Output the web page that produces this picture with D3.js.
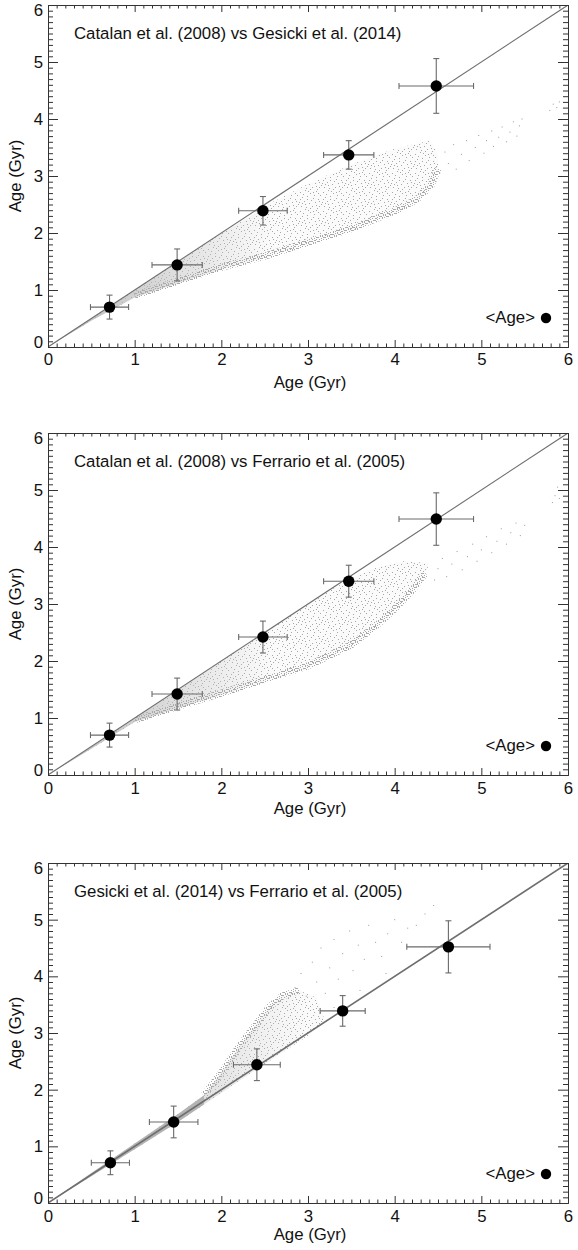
<!DOCTYPE html>
<html><head><meta charset="utf-8">
<script src="https://cdn.jsdelivr.net/npm/d3@7"></script>
<style>
body{margin:0;background:#fff}
svg{display:block}
text{font-family:"Liberation Sans",Arial,Helvetica,sans-serif;fill:#111}
</style>
</head><body>
<script>
// ---- data -------------------------------------------------------------
const tickValues = [0, 1, 2, 3, 4, 5, 6];
const titles = [
  "Catalan et al. (2008) vs Gesicki et al. (2014)",
  "Catalan et al. (2008) vs Ferrario et al. (2005)",
  "Gesicki et al. (2014) vs Ferrario et al. (2005)"
];
const axisTitle = "Age (Gyr)";
const legendLabel = "<Age>";

// mean ages with 1-sigma spreads
const ageX1 = [0.71, 1.49, 2.48, 3.47, 4.48];
const ageY1 = [0.70, 1.44, 2.39, 3.37, 4.58];
const errX1 = [0.22, 0.29, 0.28, 0.29, 0.43];
const errY1 = [0.21, 0.28, 0.25, 0.25, 0.48];

const ageX2 = [0.71, 1.49, 2.48, 3.47, 4.48];
const ageY2 = [0.70, 1.42, 2.42, 3.40, 4.49];
const errX2 = [0.22, 0.29, 0.28, 0.29, 0.43];
const errY2 = [0.21, 0.28, 0.28, 0.28, 0.46];

const ageX3 = [0.72, 1.45, 2.41, 3.40, 4.62];
const ageY3 = [0.71, 1.43, 2.44, 3.39, 4.52];
const errX3 = [0.22, 0.28, 0.27, 0.26, 0.48];
const errY3 = [0.21, 0.28, 0.28, 0.27, 0.46];

// outlines of the model clouds (x, y in Gyr)
const cloudUpper1 = [[0,0],[1.0,1.0],[2.0,1.99],[2.6,2.55],[3.0,2.86],[3.5,3.2],[4.0,3.48],[4.4,3.62]];
const cloudLower1 = [[0,0],[0.5,0.46],[1.0,0.87],[1.5,1.12],[2.0,1.36],[2.5,1.56],[3.0,1.8],[3.5,2.04],[4.0,2.35],[4.25,2.55],[4.42,2.8],[4.5,3.1],[4.5,3.4],[4.4,3.62]];
const cloudTail1 = [[4.52,3.05],[4.58,3.42],[4.62,3.22],[4.68,3.55],[4.71,3.12],[4.77,3.38],[4.83,3.62],[4.86,3.27],[4.93,3.5],[4.97,3.71],[5.03,3.4],[5.06,3.62],[5.12,3.79],[5.14,3.52],[5.2,3.68],[5.24,3.86],[5.29,3.6],[5.33,3.77],[5.37,3.95],[5.41,3.7],[5.44,3.88],[5.47,4.0],[5.79,4.15],[5.83,4.26],[5.87,4.2],[5.9,4.3]];

const cloudUpper2 = [[0,0],[1.0,1.0],[2.0,2.0],[3.3,3.28],[3.7,3.6],[4.1,3.75],[4.4,3.72]];
const cloudLower2 = [[0,0],[0.5,0.46],[1.0,0.93],[1.5,1.17],[2.0,1.4],[2.5,1.64],[3.0,1.88],[3.5,2.25],[3.8,2.6],[4.0,2.88],[4.2,3.2],[4.35,3.5],[4.4,3.72]];
const cloudTail2 = [[4.46,3.42],[4.5,3.62],[4.55,3.8],[4.6,3.48],[4.66,3.7],[4.72,3.92],[4.78,3.6],[4.84,3.83],[4.9,4.05],[4.95,3.75],[5.0,3.95],[5.06,4.18],[5.12,3.9],[5.18,4.1],[5.23,4.32],[5.29,4.05],[5.34,4.25],[5.4,4.42],[5.45,4.2],[5.5,4.38],[5.82,4.78],[5.85,4.9],[5.88,5.05],[5.9,4.85]];

const bandUpper3 = [[0,0],[0.5,0.53],[1.0,1.05],[1.5,1.57],[1.8,1.9]];
const bandLower3 = [[0,0],[0.5,0.47],[1.0,0.95],[1.5,1.43],[1.8,1.74]];
const cloudUpper3 = [[1.8,1.9],[2.0,2.3],[2.2,2.75],[2.4,3.15],[2.55,3.45],[2.7,3.65],[2.9,3.75],[3.1,3.62]];
const cloudLower3 = [[1.8,1.74],[2.2,2.15],[2.6,2.55],[3.0,2.95],[3.2,3.2],[3.1,3.62]];
const cloudTail3 = [[2.85,3.8],[2.92,4.05],[2.98,3.65],[3.05,4.25],[3.1,3.9],[3.15,4.5],[3.2,3.7],[3.25,4.15],[3.3,4.65],[3.35,3.95],[3.4,4.4],[3.48,4.8],[3.52,4.1],[3.58,4.55],[3.65,4.3],[3.7,4.9],[3.78,4.6],[3.85,4.35],[3.92,4.75],[4.0,5.0],[4.08,4.6],[4.15,4.85],[4.25,4.9],[4.35,5.1],[4.45,5.25],[3.3,3.45],[3.6,3.75],[3.9,4.05]];

// ---- layout -------------------------------------------------------------
const W = 578, H = 1250;
const left = 48, right = 568;
const frames = [
  {top: 5,   bottom: 347,  labelGap: 18, titleGap: 41},
  {top: 433, bottom: 775,  labelGap: 19, titleGap: 39},
  {top: 863, bottom: 1203, labelGap: 19, titleGap: 37}
];
const fontSize = 16.8;

const svg = d3.select("body").append("svg").attr("width", W).attr("height", H);
const defs = svg.append("defs");

// stipple textures for the model clouds
function stipple(id, w, h, pts, color) {
  const p = defs.append("pattern").attr("id", id)
    .attr("patternUnits", "userSpaceOnUse").attr("width", w).attr("height", h);
  pts.forEach(([a, b]) => p.append("rect").attr("x", a).attr("y", b)
    .attr("width", 1).attr("height", 1).attr("fill", color));
}
stipple("sparse", 23, 19, [[1,2],[6,0],[11,3],[17,1],[21,5],[3,7],[8,6],[14,8],[19,9],[0,12],[5,11],[10,13],
  [16,12],[22,14],[2,16],[7,17],[13,16],[18,18],[12,10],[4,4],[15,5],[20,16],[9,1],[1,9],[17,15],[6,14],
  [11,18],[20,11],[8,9],[14,2],[3,13],[19,3]], "#a2a2a2");
stipple("dense", 7, 7, [[0,0],[3,1],[5,0],[1,3],[4,3],[6,4],[2,5],[5,6],[0,6],[3,5],[6,2],[2,1],[4,5],[1,1]], "#a9a9a9");

const x = d3.scaleLinear().domain([0, 6]).range([left, right]);

const panels = [
  {title: titles[0], ax: ageX1, ay: ageY1, ex: errX1, ey: errY1,
   clouds: [[cloudUpper1, cloudLower1]], tail: cloudTail1, edge: cloudLower1.slice(2, 12), wedgeTo: 2.6},
  {title: titles[1], ax: ageX2, ay: ageY2, ex: errX2, ey: errY2,
   clouds: [[cloudUpper2, cloudLower2]], tail: cloudTail2, edge: cloudLower2.slice(2, 12), wedgeTo: 2.6},
  {title: titles[2], ax: ageX3, ay: ageY3, ex: errX3, ey: errY3,
   clouds: [[bandUpper3, bandLower3], [cloudUpper3, cloudLower3]], tail: cloudTail3, edge: cloudUpper3.slice(0, 7), wedgeTo: 3.0}
];

panels.forEach((pn, i) => {
  const f = frames[i];
  const y = d3.scaleLinear().domain([0, 6]).range([f.bottom, f.top]);
  const g = svg.append("g");
  const line = d3.line().x(d => x(d[0])).y(d => y(d[1]));

  const clipId = "clip" + i;
  defs.append("clipPath").attr("id", clipId).append("rect")
    .attr("x", left).attr("y", f.top).attr("width", right - left).attr("height", f.bottom - f.top);

  const cloud = g.append("g").attr("clip-path", `url(#${clipId})`);

  // soft grey wedge where model points pile up near the origin
  const gradId = "fade" + i;
  const grad = defs.append("linearGradient").attr("id", gradId)
    .attr("gradientUnits", "userSpaceOnUse")
    .attr("x1", x(0)).attr("x2", x(pn.wedgeTo)).attr("y1", 0).attr("y2", 0);
  grad.append("stop").attr("offset", 0).attr("stop-color", "#b0b0b0").attr("stop-opacity", 0.95);
  grad.append("stop").attr("offset", 0.5).attr("stop-color", "#c0c0c0").attr("stop-opacity", 0.6);
  grad.append("stop").attr("offset", 1).attr("stop-color", "#d0d0d0").attr("stop-opacity", 0.1);

  pn.clouds.forEach(([up, lo], c) => {
    const ring = up.concat(lo.slice().reverse());
    cloud.append("path").attr("d", line(ring) + "Z").attr("fill", "url(#sparse)");
    cloud.append("path").attr("d", line(ring) + "Z")
      .attr("fill", i === 2 && c === 0 ? "#b3b3b3" : `url(#${gradId})`);
  });
  // densely populated edge of the cloud
  cloud.append("path").attr("d", line(pn.edge)).attr("fill", "none")
    .attr("stroke", "url(#dense)").attr("stroke-width", 7).attr("stroke-linejoin", "round")
    .attr("transform", i === 2 ? null : "translate(0,-2)");

  cloud.selectAll("rect.tail").data(pn.tail).join("rect").attr("class", "tail")
    .attr("x", d => x(d[0]) - 0.5).attr("y", d => y(d[1]) - 0.5)
    .attr("width", 1).attr("height", 1).attr("fill", "#9a9a9a");

  // one-to-one line
  cloud.append("line").attr("x1", x(0)).attr("y1", y(0)).attr("x2", x(6)).attr("y2", y(6))
    .attr("stroke", "#6e6e6e").attr("stroke-width", i === 2 ? 1.6 : 1.1);

  // axes with inward ticks on all four sides
  const minor = d3.range(1, 60).map(v => v / 10).filter(v => Math.abs(v - Math.round(v)) > 1e-6);
  const styleAxis = sel => {
    sel.select(".domain").attr("stroke", "#333");
    sel.selectAll(".tick line").attr("stroke", "#333");
    sel.selectAll("text").attr("font-size", fontSize).attr("fill", "#111")
      .style("font-family", '"Liberation Sans", Arial, sans-serif');
  };
  const ax = [
    [d3.axisBottom(x), `translate(0,${f.bottom})`, 7, 3.5, true],
    [d3.axisTop(x), `translate(0,${f.top})`, 7, 3.5, false],
    [d3.axisLeft(y), `translate(${left},0)`, 10, 5, true],
    [d3.axisRight(y), `translate(${right},0)`, 10, 5, false]
  ];
  ax.forEach(([gen, tr, major, mnr, labels], k) => {
    g.append("g").attr("transform", tr)
      .call(gen.tickValues(minor).tickSize(-mnr).tickSizeOuter(0).tickFormat(""))
      .call(styleAxis);
    const a = g.append("g").attr("transform", tr)
      .call(gen.tickValues(tickValues).tickSize(-major).tickSizeOuter(0)
        .tickFormat(labels ? d3.format("d") : "").tickPadding(k < 2 ? 6 : 5))
      .call(styleAxis);
    if (k === 0) a.selectAll("text").attr("dy", null).attr("y", f.labelGap);
    if (k === 2) {
      // end labels are nudged inside the frame
      a.selectAll(".tick text").attr("transform", d => d === 6 ? "translate(0,5)" : d === 0 ? "translate(0,-5)" : null);
    }
  });

  // axis titles
  g.append("text").attr("x", (left + right) / 2 + 2).attr("y", f.bottom + f.titleGap)
    .attr("text-anchor", "middle").attr("font-size", fontSize).text(axisTitle);
  g.append("text").attr("transform", `translate(21,${(f.top + f.bottom) / 2}) rotate(-90)`)
    .attr("text-anchor", "middle").attr("font-size", fontSize).text(axisTitle);

  // panel title
  g.append("text").attr("x", 74).attr("y", f.top + 34).attr("font-size", fontSize).text(pn.title);

  // mean ages with error bars
  const pts = pn.ax.map((v, j) => ({x: v, y: pn.ay[j], ex: pn.ex[j], ey: pn.ey[j]}));
  const eb = g.append("g").attr("stroke", "#6a6a6a").attr("stroke-width", 1.1);
  pts.forEach(d => {
    eb.append("line").attr("x1", x(d.x - d.ex)).attr("x2", x(d.x + d.ex)).attr("y1", y(d.y)).attr("y2", y(d.y));
    eb.append("line").attr("x1", x(d.x)).attr("x2", x(d.x)).attr("y1", y(d.y - d.ey)).attr("y2", y(d.y + d.ey));
    [d.x - d.ex, d.x + d.ex].forEach(v => eb.append("line")
      .attr("x1", x(v)).attr("x2", x(v)).attr("y1", y(d.y) - 3).attr("y2", y(d.y) + 3));
    [d.y - d.ey, d.y + d.ey].forEach(v => eb.append("line")
      .attr("x1", x(d.x) - 3).attr("x2", x(d.x) + 3).attr("y1", y(v)).attr("y2", y(v)));
  });
  g.selectAll("circle.mean").data(pts).join("circle").attr("class", "mean")
    .attr("cx", d => x(d.x)).attr("cy", d => y(d.y)).attr("r", 5.7).attr("fill", "#000");

  // legend
  g.append("text").attr("x", 535).attr("y", f.bottom - 24).attr("text-anchor", "end")
    .attr("font-size", fontSize).text(legendLabel);
  g.append("circle").attr("cx", 546).attr("cy", f.bottom - 29).attr("r", 5.2).attr("fill", "#000");
});
</script>
</body></html>
